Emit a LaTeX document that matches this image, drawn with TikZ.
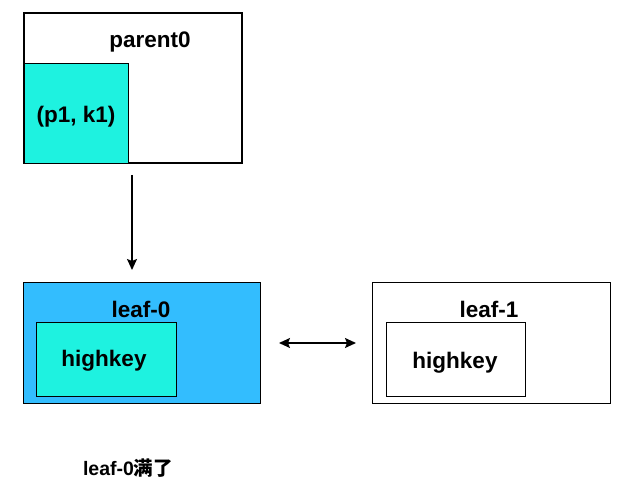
\documentclass[tikz,border=0pt]{standalone}
\usepackage{fontspec}
\setmainfont{Liberation Sans}
\newfontfamily\cjk{Noto Sans CJK SC Bold}
\usetikzlibrary{arrows.meta}
\definecolor{leafblue}{HTML}{33BDFE}
\definecolor{keycyan}{HTML}{1EF2E0}
\begin{document}
\begin{tikzpicture}[x=1pt,y=-1pt,
  box/.style={draw=black,line width=1.3pt},
  lbl/.style={font=\fontsize{22.5}{26}\selectfont\bfseries,inner sep=0pt},
  tip/.tip={Stealth[length=11pt,width=10pt,inset=2pt]},
  arr/.style={line width=1.5pt,-tip},
  darr/.style={line width=1.5pt,tip-tip}]
\useasboundingbox (0,0) rectangle (625,500);
\draw[box,fill=white] (24,13) rectangle (242,163);
\node[box,fill=keycyan,minimum width=104pt,minimum height=100pt,inner sep=0pt,anchor=north west] (pk) at (24,63) {};
\node[lbl] (parent) at (150,42) {parent0};
\node[lbl] at (76,117) {(p1, k1)};
\coordinate (a1) at (132,175);
\coordinate (a2) at (132,270);
\draw[arr] (a1) -- (a2);
\node[box,fill=leafblue,minimum width=237pt,minimum height=121pt,inner sep=0pt,anchor=north west] (leaf0) at (23,282) {};
\node[lbl] at (141,309) {leaf-0};
\node[box,fill=keycyan,minimum width=140pt,minimum height=74pt,inner sep=0pt,anchor=north west] (hk0) at (36,322) {};
\node[lbl] at (104,361) {highkey};
\node[box,fill=white,minimum width=238pt,minimum height=121pt,inner sep=0pt,anchor=north west] (leaf1) at (372,282) {};
\node[lbl] at (489,309) {leaf-1};
\node[box,fill=white,minimum width=139pt,minimum height=74pt,inner sep=0pt,anchor=north west] (hk1) at (386,322) {};
\node[lbl] at (455,363) {highkey};
\coordinate (b1) at (279,343);
\coordinate (b2) at (356,343);
\draw[darr] (b1) -- (b2);
\node[inner sep=0pt,font=\fontsize{19.5}{22}\selectfont\bfseries] (note) at (128,468) {leaf-0{\cjk 满了}};
\end{tikzpicture}
\end{document}
